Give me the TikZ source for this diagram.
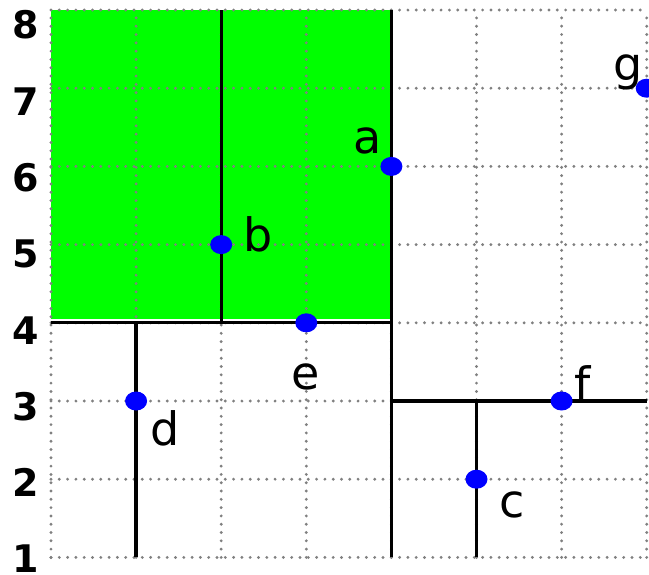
\documentclass[tikz,border=0pt]{standalone}
\usepackage{fontspec}
\setmainfont{DejaVu Sans}
\usetikzlibrary{shapes.geometric}
\definecolor{dotgray}{RGB}{128,128,128}
\tikzset{
  gridline/.style={dotgray,line width=3.2bp,line cap=round,dash pattern=on 0bp off 8.3bp},
  cut/.style={black,line width=3.3bp},
  pt/.style={ellipse,fill=blue,inner sep=0pt,minimum width=22bp,minimum height=19bp},
  lbl/.style={inner sep=0pt,font=\fontsize{46bp}{50bp}\selectfont},
  num/.style={inner sep=0pt,font=\fontsize{38bp}{42bp}\selectfont\bfseries}
}
\begin{document}
\begin{tikzpicture}[x=85.1bp,y=78.2bp]
\useasboundingbox (0.4007,0.786) rectangle (8.027,8.128);
% region
\fill[green] (1,4.045) rectangle (5,8);
% grid
\foreach \i in {1,...,8} {
  \draw[gridline] (\i,1) -- (\i,8);
  \draw[gridline] (1,\i) -- (8,\i);
}
% axis numbers
\foreach \k in {1,...,8}
  \node[num] (n\k) at (0.706,{0.979+(\k-1)*0.9757}) {\k};
% splitting lines
\draw[cut] (5,1) -- (5,8);
\draw[cut] (1,4) -- (5,4);
\draw[cut] (3,4) -- (3,8);
\draw[cut] (2,1) -- (2,4);
\draw[cut] (5,3) -- (8,3);
\draw[cut] (6,1) -- (6,3);
% points
\node[pt] (a) at (5,6) {};
\node[pt] (b) at (3,5) {};
\node[pt] (c) at (6,2) {};
\node[pt] (d) at (2,3) {};
\node[pt] (e) at (4,4) {};
\node[pt] (f) at (7,3) {};
\node[pt] (g) at (8,7) {};
\node[lbl] (la) at (4.725,6.325) {a};
\node[lbl] (lb) at (3.432,5.136) {b};
\node[lbl] (lc) at (6.417,1.670) {c};
\node[lbl] (ld) at (2.340,2.655) {d};
\node[lbl] (le) at (3.996,3.307) {e};
\node[lbl] (lf) at (7.251,3.230) {f};
\node[lbl] (lg) at (7.780,7.207) {g};
\end{tikzpicture}
\end{document}
